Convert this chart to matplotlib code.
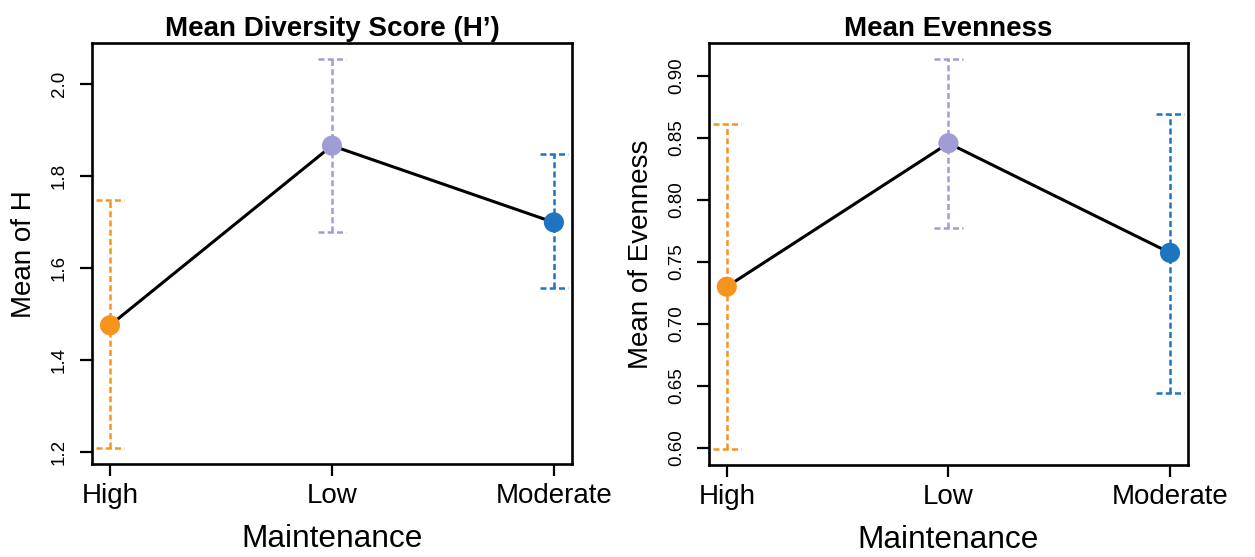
import matplotlib
matplotlib.use('Agg')
import matplotlib.pyplot as plt

plt.rcParams['font.family'] = ['Liberation Sans', 'DejaVu Sans']

# Data
groups = ['High', 'Low', 'Moderate']
colors = ['#F7941E', '#A09CD4', '#1F74C0']

h_mean = [1.475, 1.866, 1.699]
h_low = [1.207, 1.679, 1.556]
h_high = [1.747, 2.055, 1.847]
h_ticks = [1.2, 1.4, 1.6, 1.8, 2.0]

even_mean = [0.730, 0.8456, 0.7573]
even_low = [0.599, 0.7777, 0.6448]
even_high = [0.861, 0.9135, 0.8695]
even_ticks = [0.60, 0.65, 0.70, 0.75, 0.80, 0.85, 0.90]

fig = plt.figure(figsize=(12.55, 5.57), dpi=100)
ax1 = fig.add_axes([0.0735, 0.167, 0.382, 0.7553])
ax2 = fig.add_axes([0.565, 0.1652, 0.3814, 0.7571])

dash = (0, (2.4, 1.3))


def draw_panel(ax, mean, low, high, ticks, fmt, title, ylabel):
    x = list(range(1, len(groups) + 1))
    # error bars (dashed, with dashed caps)
    for xi, lo, hi, c in zip(x, low, high, colors):
        ax.vlines(xi, lo, hi, colors=c, linestyles=dash, linewidth=1.8, zorder=1)
        ax.hlines([lo, hi], xi - 0.064, xi + 0.064, colors=c, linestyles=dash,
                  linewidth=1.8, zorder=1)
    ax.plot(x, mean, color='black', linewidth=2.2, zorder=2)
    ax.scatter(x, mean, s=210, c=colors, edgecolors='none', zorder=3)

    # R-style 4% axis extension
    lo_all, hi_all = min(low), max(high)
    ext = (hi_all - lo_all) * 0.04
    ax.set_ylim(lo_all - ext, hi_all + ext)
    ax.set_xlim(0.92, 3.08)

    ax.set_xticks(x)
    ax.set_xticklabels(groups, fontsize=20)
    ax.set_yticks(ticks)
    ax.set_yticklabels([fmt.format(t) for t in ticks], fontsize=13.5,
                       rotation=90, va='center')
    ax.tick_params(axis='x', length=8.5, width=1.6, pad=5)
    ax.tick_params(axis='y', length=8.5, width=1.6, pad=9)
    for s in ax.spines.values():
        s.set_linewidth(1.9)

    ax.set_title(title, fontsize=20, fontweight='bold', pad=5)
    ax.set_xlabel('Maintenance', fontsize=22.8, labelpad=11)
    ax.set_ylabel(ylabel, fontsize=20, labelpad=10)


draw_panel(ax1, h_mean, h_low, h_high, h_ticks, '{:.1f}',
           'Mean Diversity Score (H\u2019)', 'Mean of H')
draw_panel(ax2, even_mean, even_low, even_high, even_ticks, '{:.2f}',
           'Mean Evenness', 'Mean of Evenness')

fig.savefig('out.png', dpi=100, facecolor='white')
